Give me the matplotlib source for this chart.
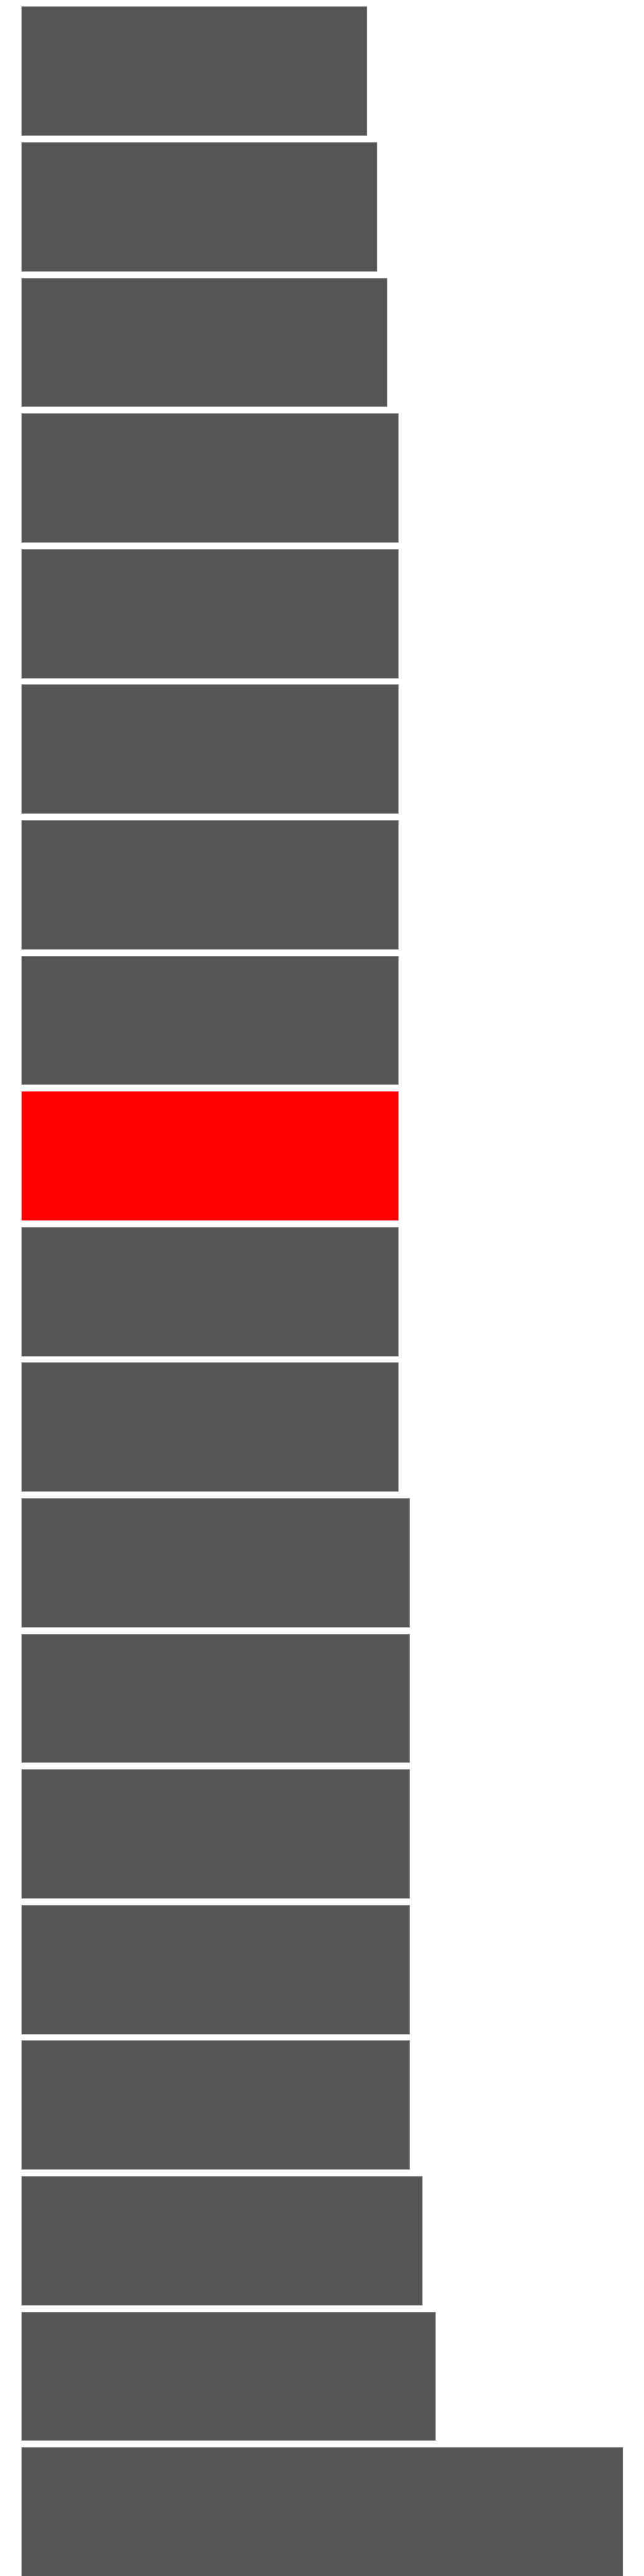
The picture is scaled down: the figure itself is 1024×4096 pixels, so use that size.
import matplotlib
matplotlib.use("Agg")
import matplotlib.pyplot as plt
import numpy as np

# bar lengths (in pixels of the 1024 wide canvas)
values = [548.7, 564.5, 581.0, 598.5, 598.5, 598.5, 598.5, 598.5, 598.5,
          598.5, 598.5, 617.3, 617.3, 617.3, 617.3, 617.3, 637.0, 658.0, 956.0]
highlight = 8  # the red one

bar_color = "#555555"
hi_color = "#ff0000"

n = len(values)
y = np.arange(n)
colors = [hi_color if i == highlight else bar_color for i in range(n)]
edges = ["#ff7070" if i == highlight else "#9a9a9a" for i in range(n)]

fig = plt.figure(figsize=(10.24, 40.96), dpi=100)
left = 34 / 1024
ax = fig.add_axes([left, 0, 1 - left, 1])

ax.barh(y, values, height=0.95, color=colors, edgecolor=edges, linewidth=0.7)

ax.set_xlim(0, 1024 - 34)
# pitch of 215.6 px per bar, first bar centre 112.8 px from top
pitch = 215.6
top = -112.8 / pitch
ax.set_ylim(top + 4096 / pitch, top)
ax.axis("off")

fig.savefig("out.png", dpi=100)
